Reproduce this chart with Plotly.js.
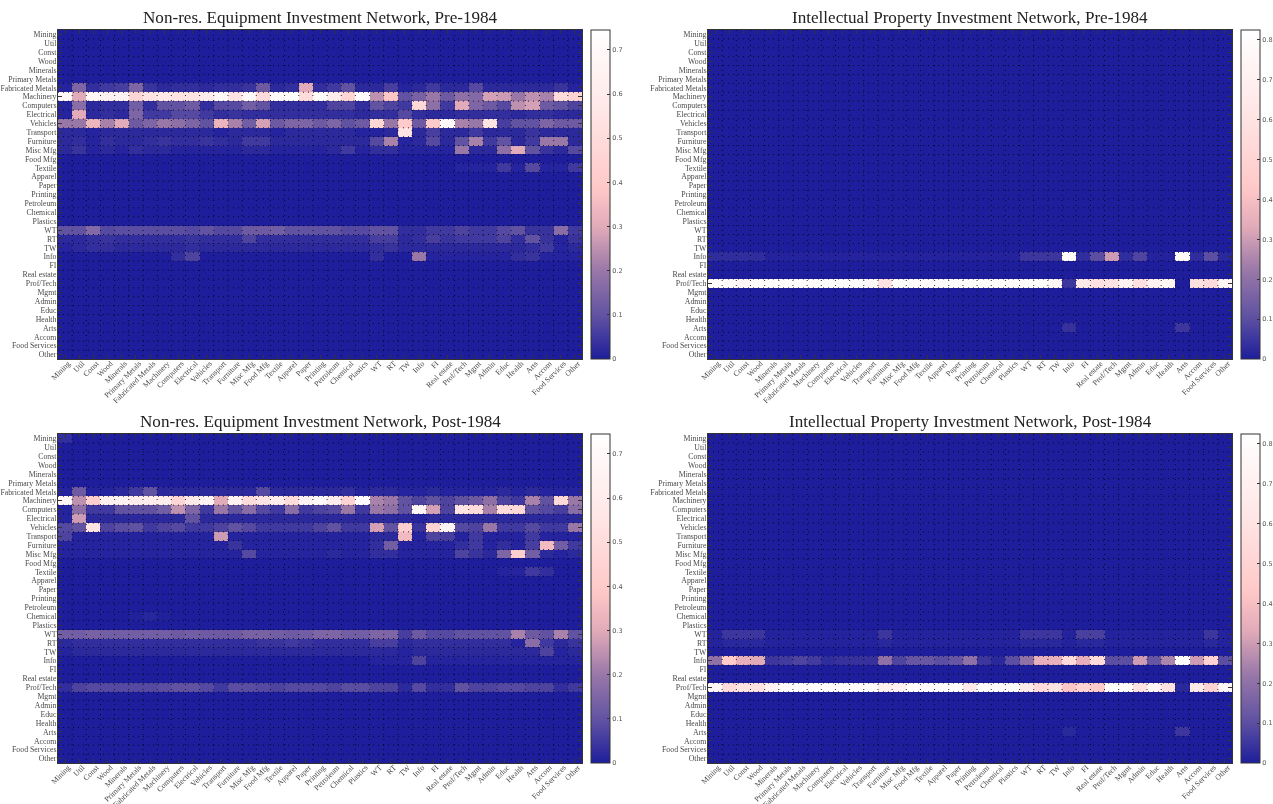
<!DOCTYPE html>
<html><head><meta charset="utf-8">
<script src="https://cdn.plot.ly/plotly-3.0.1.min.js"></script>
<style>html,body{margin:0;padding:0;background:#fff}#c{width:1273px;height:804px}#c .main-svg{will-change:transform}</style>
</head><body><div id="c"></div>
<script>
const categories = ["Mining","Util","Const","Wood","Minerals","Primary Metals","Fabricated Metals","Machinery","Computers","Electrical","Vehicles","Transport","Furniture","Misc Mfg","Food Mfg","Textile","Apparel","Paper","Printing","Petroleum","Chemical","Plastics","WT","RT","TW","Info","FI","Real estate","Prof/Tech","Mgmt","Admin","Educ","Health","Arts","Accom","Food Services","Other"];

// Non-res. equipment, pre-1984 (rows not listed are about zero)
const eqPreFabricated = [.01,.15,.03,.05,.06,.15,.04,.02,.03,.03,.02,.03,.03,.04,.12,.02,.03,.3,.03,.05,.1,.02,.02,.06,.01,.02,.05,.02,.02,.08,.02,.02,.02,.02,.02,.04,.01];
const eqPreMachinery = [.7,.3,.68,.65,.65,.47,.55,.58,.55,.55,.6,.7,.55,.7,.5,.7,.72,.5,.72,.6,.47,.73,.25,.38,.1,.14,.2,.12,.18,.16,.28,.27,.2,.25,.22,.5,.45];
const eqPreComputers = [.01,.17,.02,.03,.03,.13,.03,.1,.1,.12,.03,.08,.08,.13,.1,.03,.03,.03,.03,.07,.07,.03,.1,.07,.05,.48,.18,.05,.3,.15,.12,.08,.25,.28,.12,.1,.07];
const eqPreElectrical = [.01,.3,.02,.03,.02,.15,.05,.05,.08,.08,.05,.03,.04,.03,.03,.03,.03,.03,.03,.03,.03,.02,.03,.03,.08,.03,.02,.02,.03,.03,.03,.03,.02,.03,.03,.02,.02];
const eqPreVehicles = [.2,.2,.33,.22,.3,.12,.15,.2,.18,.15,.1,.33,.22,.13,.28,.12,.15,.15,.12,.15,.1,.12,.47,.2,.4,.12,.4,.7,.22,.2,.55,.06,.1,.1,.15,.12,.12];
const eqPreTransport = [.02,.02,.01,.02,.02,.02,.02,.02,.02,.02,.02,.01,.02,.02,.02,.01,.02,.02,.02,.02,.02,.01,.01,.02,.55,.02,.06,.02,.02,.05,.02,.02,.02,.04,.02,.02,.02];
const eqPreFurniture = [.02,.03,.01,.03,.02,.02,.03,.04,.03,.03,.04,.03,.02,.05,.05,.02,.02,.02,.02,.02,.02,.02,.08,.22,.01,.02,.08,.02,.1,.22,.05,.1,.02,.05,.2,.2,.02];
const eqPreMisc = [.02,.04,.01,.02,.01,.03,.02,.02,.01,.01,.01,.01,.01,.02,.02,.01,.01,.01,.01,.02,.05,.01,.03,.03,.01,.01,.01,.01,.2,.02,.02,.18,.3,.1,.04,.02,.08];
const eqPreTextile = [0,0,0,0,0,0,0,0,0,0,0,0,0,0,0,0,0,0,0,0,0,0,0,0,0,0,0,0,.01,.01,.01,.05,.01,.08,.01,.01,.05];
const eqPreWT = [.1,.1,.16,.08,.09,.09,.09,.09,.09,.08,.1,.08,.08,.12,.12,.13,.1,.1,.1,.1,.08,.08,.1,.1,.03,.03,.05,.05,.07,.05,.05,.08,.1,.04,.04,.17,.05];
const eqPreRT = [.02,.02,.03,.04,.03,.03,.03,.03,.03,.04,.03,.03,.03,.07,.03,.03,.03,.03,.03,.03,.03,.03,.06,.06,.02,.03,.06,.04,.05,.05,.05,.07,.03,.1,.04,.01,.04];
const eqPreTW = [.01,.02,.03,.03,.02,.02,.02,.02,.02,.03,.02,.02,.02,.02,.02,.02,.02,.02,.02,.02,.02,.02,.03,.04,.02,.02,.02,.02,.02,.02,.02,.02,.02,.03,.05,.01,.02];
const eqPreInfo = [0,0,0,0,0,0,0,0,.03,.07,0,0,0,0,0,0,0,0,0,0,0,0,.03,0,0,.2,.01,.01,.01,.01,.01,.01,.03,.04,.01,.01,.01];

// Non-res. equipment, post-1984
const eqPostMining = [.03,0,0,0,0,0,0,0,0,0,0,0,0,0,0,0,0,0,0,0,0,0,0,0,0,0,0,0,0,0,0,0,0,0,0,0,0];
const eqPostFabricated = [.01,.12,.01,.01,.02,.05,.1,.02,.02,.02,.02,.02,.02,.02,.08,.02,.02,.02,.02,.02,.03,.01,.02,.02,.01,.01,.02,.01,.01,.01,.01,.02,.01,.02,.01,.01,.01];
const eqPostMachinery = [.68,.25,.42,.63,.65,.6,.6,.6,.47,.57,.65,.3,.65,.5,.55,.6,.5,.65,.7,.6,.45,.73,.22,.2,.1,.07,.1,.07,.1,.12,.18,.07,.05,.22,.1,.48,.2];
const eqPostComputers = [.01,.18,.05,.05,.1,.1,.1,.13,.25,.15,.05,.2,.1,.17,.08,.05,.17,.05,.07,.08,.2,.05,.2,.18,.1,.68,.28,.07,.55,.5,.22,.5,.48,.1,.08,.06,.17];
const eqPostElectrical = [.01,.27,.02,.02,.02,.02,.02,.02,.02,.1,.02,.02,.02,.02,.02,.02,.02,.02,.02,.02,.02,.02,.02,.02,.02,.01,.02,.02,.02,.02,.02,.02,.02,.02,.02,.02,.02];
const eqPostVehicles = [.08,.1,.55,.07,.09,.1,.05,.07,.08,.05,.05,.07,.1,.08,.05,.05,.05,.05,.07,.1,.05,.05,.28,.1,.42,.04,.45,.65,.08,.07,.2,.05,.05,.08,.05,.05,.2];
const eqPostTransport = [.07,.01,.01,.01,.01,.01,.01,.01,.01,.01,.01,.27,.01,.01,.01,.01,.01,.01,.01,.01,.01,.01,.02,.02,.35,.01,.07,.06,.01,.05,.01,.01,.01,.05,.01,.01,.01];
const eqPostFurniture = [.01,.01,.01,.01,.01,.01,.01,.01,.01,.01,.01,.01,.04,.01,.01,.01,.01,.01,.01,.01,.01,.01,.03,.13,.01,.01,.01,.01,.03,.05,.01,.03,.01,.06,.35,.13,.05];
const eqPostMisc = [.01,.01,.01,.01,.01,.01,.01,.01,.01,.01,.01,.01,.01,.08,.01,.01,.01,.01,.01,.02,.01,.01,.03,.03,.01,.01,.01,.01,.07,.04,.02,.15,.42,.13,.02,.01,.02];
const eqPostTextile = [0,0,0,0,0,0,0,0,0,0,0,0,0,0,0,0,0,0,0,0,0,0,0,0,0,0,0,0,0,0,0,.01,.01,.05,.03,0,0];
const eqPostChemical = [0,0,0,0,0,.005,.015,.005,0,0,0,0,0,0,0,0,0,0,0,0,0,0,0,0,0,0,0,0,0,0,0,0,0,0,0,0,0];
const eqPostWT = [.13,.13,.14,.13,.13,.13,.13,.13,.12,.13,.12,.12,.12,.14,.14,.13,.12,.13,.15,.15,.13,.13,.15,.15,.06,.12,.08,.08,.1,.1,.1,.1,.22,.12,.1,.22,.1];
const eqPostRT = [.02,.03,.03,.03,.03,.03,.03,.03,.03,.03,.03,.03,.03,.03,.04,.04,.05,.04,.03,.03,.03,.03,.06,.06,.02,.03,.03,.03,.03,.03,.03,.03,.01,.17,.05,.02,.04];
const eqPostTW = [.01,.02,.02,.02,.02,.02,.02,.02,.02,.02,.02,.02,.02,.02,.02,.02,.02,.02,.02,.02,.02,.02,.02,.02,.01,.02,.02,.02,.02,.02,.02,.02,.02,.02,.07,.01,.02];
const eqPostInfo = [0,0,0,0,0,0,0,0,0,0,0,0,0,0,0,0,0,0,0,0,0,0,.01,.01,.01,.07,.01,.01,.01,.01,.01,.01,.01,.01,.01,.01,.01];
const eqPostProf = [.03,.07,.08,.08,.08,.08,.08,.09,.1,.1,.08,.05,.09,.09,.08,.07,.08,.08,.08,.07,.09,.09,.07,.07,.02,.08,.03,.03,.1,.07,.07,.08,.08,.07,.07,.03,.05];

// Intellectual property, pre-1984
const ipPreInfo = [.03,.03,.03,.03,.01,.01,.01,.01,.01,.01,.01,.01,.01,.01,.01,.01,.01,.01,.01,.01,.01,.01,.05,.05,.05,.8,.03,.1,.3,.03,.08,.01,.01,.8,.03,.1,.02];
const ipPreProf = [.8,.79,.76,.79,.8,.8,.8,.79,.8,.8,.8,.78,.6,.8,.8,.79,.8,.8,.8,.8,.8,.79,.8,.8,.75,.05,.65,.58,.6,.72,.58,.72,.75,0,.58,.55,.75];
const ipPreArts = [0,0,0,0,0,0,0,0,0,0,0,0,0,0,0,0,0,0,0,0,0,0,0,0,0,.04,0,0,0,0,0,0,0,.05,0,0,0];

// Intellectual property, post-1984
const ipPostWT = [.01,.05,.05,.05,.01,.01,.01,.01,.01,.01,.01,.01,.05,.01,.01,.01,.01,.01,.01,.01,.01,.01,.05,.05,.05,.01,.07,.07,.01,.01,.01,.01,.01,.01,.01,.05,.01];
const ipPostRT = [.01,.02,.02,.02,.01,.01,.01,.01,.01,.01,.01,.01,.02,.01,.01,.01,.01,.01,.01,.01,.01,.01,.02,.02,.02,.01,.02,.02,.01,.01,.01,.01,.01,.01,.01,.02,.01];
const ipPostInfo = [.2,.45,.35,.33,.05,.06,.08,.06,.03,.04,.04,.04,.2,.08,.12,.12,.1,.12,.2,.05,.02,.1,.2,.35,.35,.55,.35,.55,.1,.1,.3,.12,.25,.8,.3,.5,.1];
const ipPostProf = [.75,.55,.6,.6,.72,.8,.8,.8,.8,.8,.8,.8,.7,.72,.8,.8,.8,.8,.65,.8,.8,.8,.65,.55,.6,.42,.5,.45,.8,.8,.6,.75,.6,.02,.65,.5,.75];
const ipPostArts = [0,0,0,0,0,0,0,0,0,0,0,0,0,0,0,0,0,0,0,0,0,0,0,0,0,.02,0,0,0,0,0,0,0,.05,0,0,0];

const titles = ["Non-res. Equipment Investment Network, Pre-1984","Intellectual Property Investment Network, Pre-1984","Non-res. Equipment Investment Network, Post-1984","Intellectual Property Investment Network, Post-1984"];
const zMaxima = [0.745, 0.825, 0.745, 0.825];
const panelRows = [
  {"Fabricated Metals":eqPreFabricated,"Machinery":eqPreMachinery,"Computers":eqPreComputers,"Electrical":eqPreElectrical,"Vehicles":eqPreVehicles,"Transport":eqPreTransport,"Furniture":eqPreFurniture,"Misc Mfg":eqPreMisc,"Textile":eqPreTextile,"WT":eqPreWT,"RT":eqPreRT,"TW":eqPreTW,"Info":eqPreInfo},
  {"Info":ipPreInfo,"Prof/Tech":ipPreProf,"Arts":ipPreArts},
  {"Mining":eqPostMining,"Fabricated Metals":eqPostFabricated,"Machinery":eqPostMachinery,"Computers":eqPostComputers,"Electrical":eqPostElectrical,"Vehicles":eqPostVehicles,"Transport":eqPostTransport,"Furniture":eqPostFurniture,"Misc Mfg":eqPostMisc,"Textile":eqPostTextile,"Chemical":eqPostChemical,"WT":eqPostWT,"RT":eqPostRT,"TW":eqPostTW,"Info":eqPostInfo,"Prof/Tech":eqPostProf},
  {"WT":ipPostWT,"RT":ipPostRT,"Info":ipPostInfo,"Prof/Tech":ipPostProf,"Arts":ipPostArts}
];

const W = 1273, H = 804;
const lefts = [58, 708], tops = [30, 434], plotW = 524, plotH = 329;
const colorscale = [[0,'#1e1e9c'],[0.13,'#6052a2'],[0.27,'#9a78a8'],[0.4,'#e1aab9'],[0.52,'#ffc8c8'],[0.75,'#ffe6e6'],[1,'#ffffff']];
const serif = '"Liberation Serif", serif';
const labelFont = {family:serif, size:7.8, color:'#4a4a4a'};

const traces = [], shapes = [], annotations = [];
const layout = {width:W, height:H, margin:{l:0,r:0,t:0,b:0,autoexpand:false}, paper_bgcolor:'#fff', plot_bgcolor:'#1e1e9c', showlegend:false};

titles.forEach((t, p) => {
  const col = p % 2, row = p < 2 ? 0 : 1, n = p ? String(p + 1) : '';
  const left = lefts[col], top = tops[row];
  const axis = {type:'category', showgrid:false, zeroline:false, ticks:'inside', ticklen:4, tickwidth:1, tickcolor:'#333',
    showline:true, linecolor:'#333', linewidth:1, mirror:'ticks', tickfont:labelFont, dtick:1, automargin:false, fixedrange:true, ticklabeloverflow:'allow'};
  layout['xaxis'+n] = Object.assign({}, axis, {domain:[left/W,(left+plotW)/W], anchor:'y'+n, tickangle:-45, range:[-0.5,36.5], ticklabelstandoff:-4, ticklabelshift:3});
  layout['yaxis'+n] = Object.assign({}, axis, {domain:[1-(top+plotH)/H,1-top/H], anchor:'x'+n, range:[36.5,-0.5], ticklabelstandoff:-1});
  const z = categories.map(c => panelRows[p][c] || new Array(categories.length).fill(0));
  traces.push({type:'heatmap', x:categories, y:categories, z:z, xaxis:'x'+n, yaxis:'y'+n, zmin:0, zmax:zMaxima[p], colorscale:colorscale, hoverinfo:'skip',
    colorbar:{x:(left+plotW+9)/W, xanchor:'left', y:1-top/H, yanchor:'top', len:plotH/H, lenmode:'fraction', thickness:19, thicknessmode:'pixels',
      xpad:0, ypad:0, outlinecolor:'#333', outlinewidth:1, ticks:'inside', ticklen:3, tickcolor:'#333', tick0:0, dtick:0.1,
      tickfont:{family:'"DejaVu Sans",sans-serif', size:6.5, color:'#555'}}});
  const dot = {color:'rgba(0,0,10,0.8)', width:1, dash:'1px,4px'};
  for (let i = 0; i < categories.length - 1; i++) {
    shapes.push({type:'line', layer:'above', xref:'x'+n, yref:'y'+n, x0:i+0.5, x1:i+0.5, y0:-0.5, y1:36.5, line:dot});
    shapes.push({type:'line', layer:'above', xref:'x'+n, yref:'y'+n, x0:-0.5, x1:36.5, y0:i+0.5, y1:i+0.5, line:dot});
  }
  annotations.push({text:t, xref:'paper', yref:'paper', x:(left+plotW/2)/W, y:1-(top-13)/H, xanchor:'center', yanchor:'middle', showarrow:false,
    font:{family:serif, size:17.1, color:'#222'}});
});
layout.shapes = shapes;
layout.annotations = annotations;
Plotly.newPlot('c', traces, layout, {displayModeBar:false, staticPlot:true});
</script></body></html>
